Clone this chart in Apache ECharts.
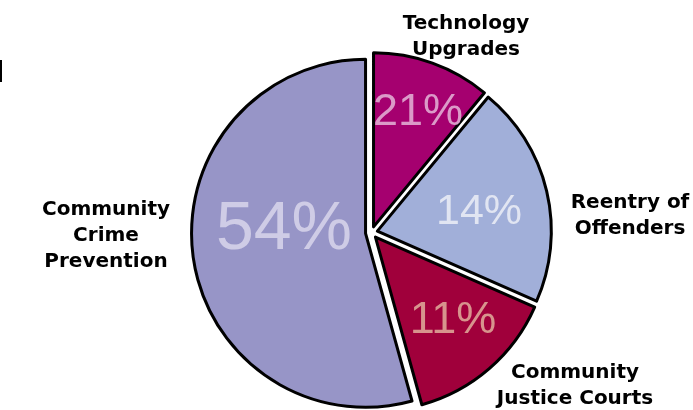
<!DOCTYPE html>
<html>
<head>
<meta charset="utf-8">
<script src="https://cdn.jsdelivr.net/npm/echarts@6/dist/echarts.min.js"></script>
<style>
html,body{margin:0;padding:0;background:#fff;}
#chart{width:693px;height:410px;}
</style>
</head>
<body>
<div id="chart"></div>
<script>
// Categories (clockwise from 12 o'clock)
const categories = ['Technology\nUpgrades', 'Reentry of\nOffenders', 'Community\nJustice Courts', 'Community\nCrime\nPrevention'];
// Slice sizes as drawn (percent of circle)
const sliceShares = [11, 20.6, 14.1, 54.3];
// Percent texts printed on the slices
const shareLabels = ['21%', '14%', '11%', '54%'];

const sliceColors = ['#A5006F', '#A1AFD9', '#A0003B', '#9795C7'];
const shareTextColors = ['#DB9AC8', '#E1E5F2', '#D7948D', '#CFCCE6'];
const shareFontSizes = [45, 43, 45, 68];

// label anchor points (layout only)
const innerLabelPos = [[418, 113], [479, 212], [453, 321], [284, 230]];
const outerLabelPos = [[466, 37], [630, 216], [575, 386], [106, 236]];

const chart = echarts.init(document.getElementById('chart'), null, {renderer: 'canvas'});

const sliceData = categories.map((c, i) => ({
  name: c,
  value: sliceShares[i],
  selected: true,
  itemStyle: {color: sliceColors[i]}
}));

const shareData = categories.map((c, i) => ({
  name: c,
  value: sliceShares[i],
  label: {
    formatter: shareLabels[i],
    color: shareTextColors[i],
    fontSize: shareFontSizes[i]
  }
}));

const nameData = categories.map((c, i) => ({
  name: c,
  value: sliceShares[i]
}));

const base = {
  type: 'pie',
  center: [371.5, 232.5],
  radius: [0, 174],
  startAngle: 90,
  clockwise: true,
  avoidLabelOverlap: false,
  emphasis: {disabled: true},
  labelLine: {show: false}
};

const option = {
  animation: false,
  graphic: [{
    type: 'rect',
    shape: {x: 0, y: 60, width: 2, height: 22},
    style: {fill: '#000'}
  }],
  series: [
    Object.assign({}, base, {
      selectedMode: 'multiple',
      selectedOffset: 6,
      itemStyle: {borderColor: '#000', borderWidth: 3},
      select: {itemStyle: {borderColor: '#000', borderWidth: 3}},
      label: {show: false},
      data: sliceData,
      z: 2
    }),
    Object.assign({}, base, {
      silent: true,
      itemStyle: {color: 'rgba(0,0,0,0)', borderWidth: 0},
      label: {
        show: true,
        position: 'inside',
        fontFamily: '"Liberation Sans", Arial, sans-serif',
        fontWeight: 'normal'
      },
      labelLayout: function (p) {
        const pos = innerLabelPos[p.dataIndex];
        return {x: pos[0], y: pos[1], align: 'center', verticalAlign: 'middle'};
      },
      data: shareData,
      z: 3
    }),
    Object.assign({}, base, {
      silent: true,
      itemStyle: {color: 'rgba(0,0,0,0)', borderWidth: 0},
      label: {
        show: true,
        position: 'outside',
        color: '#000',
        fontFamily: '"DejaVu Sans", sans-serif',
        fontWeight: 'bold',
        fontSize: 20,
        lineHeight: 26,
        align: 'center'
      },
      labelLayout: function (p) {
        const pos = outerLabelPos[p.dataIndex];
        return {x: pos[0], y: pos[1], align: 'center', verticalAlign: 'middle'};
      },
      data: nameData,
      z: 4
    })
  ]
};
chart.setOption(option);
</script>
</body>
</html>
